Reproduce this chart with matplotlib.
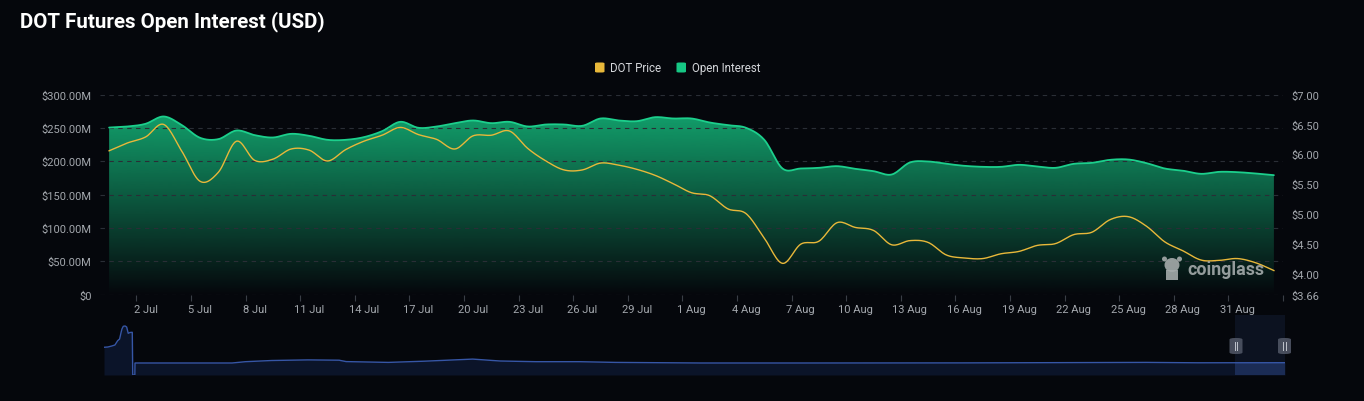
import numpy as np
import pandas as pd
import matplotlib
matplotlib.use("Agg")
import matplotlib.pyplot as plt
from matplotlib.patches import Rectangle, FancyBboxPatch, Polygon, Ellipse

# ---------------- data ----------------
dates = pd.date_range("2024-06-30", "2024-09-02", freq="D")
categories = [f"{d.day} {d.strftime('%b')}" for d in dates]

open_interest_musd = [250.4, 252, 256, 267, 254, 235, 233, 246, 239, 235.5,
                      241, 238, 232, 232, 236, 245, 259, 250, 252, 257,
                      261, 257, 259, 252, 255, 255, 253, 264, 261, 260,
                      266, 264, 264, 258, 254, 250, 232, 189, 189, 190,
                      192.5, 188.5, 185, 180, 198, 199.5, 196, 193, 191.5, 191.5,
                      194.5, 192, 190, 196, 197.5, 202, 202.5, 197, 189, 185.7,
                      181, 184, 183.5, 181.5, 179]

dot_price = [6.06, 6.19, 6.29, 6.50, 6.05, 5.55, 5.70, 6.22, 5.90, 5.92,
             6.09, 6.07, 5.89, 6.08, 6.22, 6.32, 6.45, 6.33, 6.25, 6.09,
             6.31, 6.32, 6.39, 6.10, 5.89, 5.74, 5.74, 5.855, 5.82, 5.75,
             5.65, 5.51, 5.36, 5.31, 5.09, 5.01, 4.60, 4.18, 4.50, 4.55,
             4.86, 4.78, 4.73, 4.49, 4.56, 4.53, 4.32, 4.27, 4.26, 4.34,
             4.38, 4.48, 4.51, 4.66, 4.70, 4.91, 4.96, 4.80, 4.54, 4.39,
             4.235, 4.23, 4.26, 4.19, 4.06]

left_ticks = [0, 50, 100, 150, 200, 250, 300]
left_labels = ["$0", "$50.00M", "$100.00M", "$150.00M", "$200.00M", "$250.00M", "$300.00M"]
right_ticks = [3.66, 4.0, 4.5, 5.0, 5.5, 6.0, 6.5, 7.0]
right_labels = ["$3.66", "$4.00", "$4.50", "$5.00", "$5.50", "$6.00", "$6.50", "$7.00"]

# overview (data-zoom) series: days since start of history, OI in $M
nav_days = [0, 5, 10, 14, 17.5, 20, 22, 23, 24.7, 27, 29, 31, 33.3, 36.2, 36.8,
            39.5, 39.7, 164, 181, 215, 261, 301, 310, 364, 410, 472, 507, 553,
            609, 655, 763, 900, 1100, 1335, 1400, 1512]
nav_oi = [554, 560, 580, 600, 686, 720, 860, 920, 974, 980, 960, 834, 850, 854, 0,
          0, 240, 240, 266, 290, 302, 296, 268, 252, 276, 318, 280, 266,
          266, 252, 240, 240, 242, 252, 244, 246]

# ---------------- style ----------------
BG = "#05070c"
GREEN = "#16c784"
GOLD = "#e8b83a"
GRID = "#2a2e36"
TICK = "#a3a7ad"
FONT = ["Roboto", "DejaVu Sans"]
plt.rcParams["font.family"] = FONT


def smooth(x, y, n=14):
    P = np.column_stack([np.asarray(x, float), np.asarray(y, float)])
    P = np.vstack([P[0], P, P[-1]])
    out = []
    t = np.linspace(0, 1, n, endpoint=False)[:, None]
    for i in range(1, len(P) - 2):
        p0, p1, p2, p3 = P[i - 1], P[i], P[i + 1], P[i + 2]
        pts = 0.5 * ((2 * p1) + (-p0 + p2) * t + (2 * p0 - 5 * p1 + 4 * p2 - p3) * t ** 2
                     + (-p0 + 3 * p1 - 3 * p2 + p3) * t ** 3)
        out.append(pts)
    out.append(P[-2][None])
    S = np.vstack(out)
    return S[:, 0], S[:, 1]


W, H = 1364, 402
fig = plt.figure(figsize=(W / 100, H / 100), dpi=100, facecolor=BG)

ax = fig.add_axes([100 / W, (H - 295.5) / H, 1183 / W, 200 / H])
ax.set_facecolor(BG)
x = np.arange(len(categories))

# gradient area for open interest
sx, sy = smooth(x, open_interest_musd)
verts = np.vstack([np.column_stack([sx, sy]), [[sx[-1], 0], [sx[0], 0]]])
poly = Polygon(verts, closed=True, facecolor="none", edgecolor="none")
ax.add_patch(poly)
ymax = max(open_interest_musd)
grad = np.zeros((256, 1, 4))
rgb = matplotlib.colors.to_rgb(GREEN)
grad[..., 0], grad[..., 1], grad[..., 2] = rgb
grad[:, 0, 3] = np.linspace(0.78, 0.0, 256)
im = ax.imshow(grad, extent=[sx[0], sx[-1], 0, ymax], aspect="auto", origin="upper",
               zorder=1, interpolation="bilinear")
im.set_clip_path(poly)
ax.plot(sx, sy, color="#1ccf8c", lw=1.3, zorder=3, solid_capstyle="round")

ax.set_xlim(-0.5, len(categories) - 0.5)
ax.set_ylim(0, 300)
ax.set_yticks(left_ticks)
ax.set_yticklabels(left_labels)
for v in left_ticks:
    ax.axhline(v, color=GRID, lw=0.8, ls=(0, (4, 4)), zorder=2)

lab_idx = list(range(2, len(categories) - 2, 3))
ax.set_xticks(lab_idx)
ax.set_xticklabels([categories[i] for i in lab_idx])
ax.set_xticks([i - 0.5 for i in lab_idx] + [len(categories) - 0.5], minor=True)
ax.tick_params(axis="x", which="major", length=0, pad=6.5, colors=TICK, labelsize=8)
ax.tick_params(axis="x", which="minor", length=4, color="#3a3e46", width=0.8)
ax.tick_params(axis="y", length=0, pad=6, colors=TICK, labelsize=8)
for s in ax.spines.values():
    s.set_visible(False)

# price on right axis
ax2 = ax.twinx()
px, py = smooth(x, dot_price)
ax2.plot(px, py, color=GOLD, lw=1.0, zorder=4)
ax2.set_ylim(3.66, 7.0)
ax2.set_yticks(right_ticks)
ax2.set_yticklabels(right_labels)
ax2.tick_params(axis="y", length=0, pad=6, colors=TICK, labelsize=8)
for s in ax2.spines.values():
    s.set_visible(False)

# title
fig.text(20 / W, 1 - 22 / H, "DOT Futures Open Interest (USD)", color="white",
         fontsize=14.8, fontweight="bold", va="center", ha="left")

# legend
def legend_item(x0, color, label):
    fig.add_artist(FancyBboxPatch((x0 / W, 1 - 73.5 / H), 9.5 / W, 10 / H,
                                  boxstyle="round,pad=0,rounding_size=0.002",
                                  transform=fig.transFigure, facecolor=color,
                                  edgecolor="none"))
    fig.text((x0 + 15) / W, 1 - 68.5 / H, label, color="#d4d6da", fontsize=8.3,
             va="center", ha="left")

legend_item(595, GOLD, "DOT Price")
legend_item(676.5, GREEN, "Open Interest")

# watermark
WM = "#a5abab"
fig.text(1187 / W, 1 - 270 / H, "coinglass", color=WM, fontsize=12.8,
         fontweight="bold", va="center", ha="left", alpha=0.9)
fig.add_artist(Ellipse((1172 / W, 1 - 266 / H), 15 / W, 14 / H, transform=fig.transFigure,
                       facecolor=WM, edgecolor="none", alpha=0.9))
fig.add_artist(Ellipse((1164.5 / W, 1 - 260 / H), 5 / W, 5 / H, transform=fig.transFigure,
                       facecolor=WM, edgecolor="none", alpha=0.9))
fig.add_artist(Ellipse((1179.5 / W, 1 - 260 / H), 5 / W, 5 / H, transform=fig.transFigure,
                       facecolor=WM, edgecolor="none", alpha=0.9))
fig.add_artist(Rectangle((1166 / W, 1 - 281 / H), 12 / W, 10 / H, transform=fig.transFigure,
                         facecolor=WM, edgecolor="none", alpha=0.9))

# ---------------- overview / data zoom ----------------
nav = fig.add_axes([104 / W, (H - 376) / H, 1181 / W, 60 / H])
nav.set_facecolor("none")
nav.set_xlim(0, nav_days[-1])
nav.set_ylim(0, 1200)
nav.fill_between(nav_days, nav_oi, 0, color="#0b1429", lw=0)
nav.plot(nav_days, nav_oi, color="#3656a6", lw=1.0)
win_start = nav_days[-1] - (len(categories) - 0.5)
nav.axvspan(win_start, nav_days[-1], color="#1f2d4f", alpha=0.3, lw=0)
nav.fill_between([win_start, nav_days[-1]], [246, 246], 0, color="#2b4787", alpha=0.4, lw=0)
nav.axis("off")

for hx in (1236, 1284.5):
    fig.add_artist(FancyBboxPatch(((hx - 6.5) / W, 1 - 355 / H), 13 / W, 16 / H,
                                  boxstyle="round,pad=0,rounding_size=0.004",
                                  transform=fig.transFigure, facecolor="#4b5160",
                                  edgecolor="none", alpha=0.95))
    for dx in (-1.3, 1.3):
        fig.add_artist(plt.Line2D([(hx + dx) / W] * 2, [1 - 351 / H, 1 - 343 / H],
                                  transform=fig.transFigure, color="#c0c4cc", lw=0.7))

fig.savefig("out.png", dpi=100, facecolor=BG)
